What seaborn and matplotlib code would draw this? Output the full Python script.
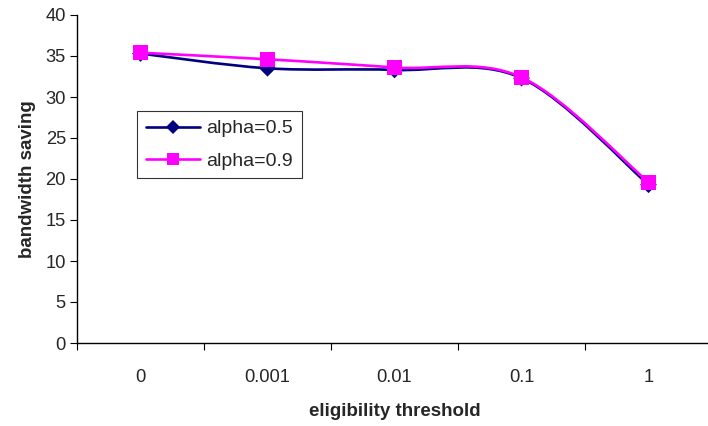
import matplotlib

matplotlib.use("Agg")
import matplotlib.pyplot as plt
import numpy as np
import pandas as pd
import seaborn as sns
from matplotlib.lines import Line2D
from matplotlib.patches import PathPatch
from matplotlib.path import Path

thresholds = ["0", "0.001", "0.01", "0.1", "1"]
alpha_05 = [35.3, 33.5, 33.3, 32.3, 19.3]
alpha_09 = [35.4, 34.6, 33.6, 32.4, 19.6]
series_names = ["alpha=0.5", "alpha=0.9"]
colors = {"alpha=0.5": "#000080", "alpha=0.9": "#FF00FF"}
markers = {"alpha=0.5": "D", "alpha=0.9": "s"}
sizes = {"alpha=0.5": 8.5, "alpha=0.9": 10.5}

sns.set_theme(style="white")
plt.rcParams["font.family"] = ["Liberation Sans", "DejaVu Sans"]

df = pd.DataFrame({
    "pos": list(range(len(thresholds))) * 2,
    "threshold": thresholds * 2,
    "saving": alpha_05 + alpha_09,
    "series": [series_names[0]] * 5 + [series_names[1]] * 5,
})

fig = plt.figure(figsize=(7.08, 4.26), dpi=100)
ax = fig.add_axes([77 / 708, 83 / 426, 635 / 708, 328 / 426])


def smooth_path(xs, ys):
    """Excel-like smoothed line: cubic Bezier through each point."""
    pts = np.column_stack([xs, ys]).astype(float)
    n = len(pts)
    verts = [pts[0]]
    codes = [Path.MOVETO]
    for i in range(n - 1):
        p0 = pts[max(i - 1, 0)]
        p1 = pts[i]
        p2 = pts[i + 1]
        p3 = pts[min(i + 2, n - 1)]
        verts += [p1 + (p2 - p0) / 6, p2 - (p3 - p1) / 6, p2]
        codes += [Path.CURVE4] * 3
    return Path(verts, codes)


handles = []
for k, name in enumerate(series_names):
    sub = df[df["series"] == name]
    ax.add_patch(PathPatch(smooth_path(sub["pos"], sub["saving"]), fill=False,
                           edgecolor=colors[name], lw=1.9, zorder=2 + k))
    sns.scatterplot(data=sub, x="pos", y="saving", ax=ax, color=colors[name],
                    marker=markers[name], s=sizes[name] ** 2, edgecolor="none",
                    zorder=3 + k, legend=False)
    handles.append(Line2D([], [], color=colors[name], lw=1.9, marker=markers[name],
                          markersize=sizes[name] * 0.85, markeredgewidth=0))

ax.set_xlim(-0.5, 4.5)
ax.set_ylim(0, 40)
ax.set_yticks(range(0, 41, 5))
ax.set_xticks(range(len(thresholds)))
ax.set_xticklabels(thresholds)
ax.set_xticks(np.arange(-0.5, 5, 1), minor=True)
ax.tick_params(axis="x", which="major", length=0, pad=19, labelsize=13.2)
ax.tick_params(axis="x", which="minor", length=5, width=0.8, direction="out",
               bottom=True, color="black")
ax.tick_params(axis="y", length=5, width=0.8, direction="out", left=True,
               color="black", labelsize=13.2, pad=3)

for side in ["top", "right"]:
    ax.spines[side].set_visible(False)
for side in ["left", "bottom"]:
    ax.spines[side].set_color("black")
    ax.spines[side].set_linewidth(1.0)

ax.set_xlabel("eligibility threshold", fontsize=13.5, fontweight="bold", labelpad=12)
ax.set_ylabel("bandwidth saving", fontsize=13.5, fontweight="bold", labelpad=7)

leg = fig.legend(handles, series_names, loc="upper left",
                 bbox_to_anchor=(137 / 708, 1 - 111 / 426), fontsize=14,
                 frameon=True, fancybox=False, edgecolor="black",
                 borderpad=0.45, handlelength=2.8, labelspacing=0.75,
                 handletextpad=0.3, borderaxespad=0)
leg.get_frame().set_linewidth(0.8)

fig.savefig("out.png", dpi=100)
